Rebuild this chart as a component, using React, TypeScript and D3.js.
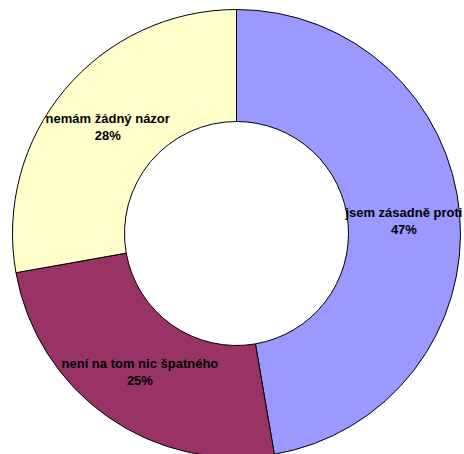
import React, { useEffect, useRef } from 'react';
import * as d3 from 'd3';

const labels = ['jsem zásadně proti', 'není na tom nic špatného', 'nemám žádný názor'];
const values = [47.3, 24.9, 27.8];
const shown = ['47%', '25%', '28%'];
const colors = ['#9999FF', '#993366', '#FFFFCC'];

const App = () => {
  const ref = useRef<SVGSVGElement>(null);

  useEffect(() => {
    const width = 464;
    const height = 454;
    const cx = 236.5;
    const cy = 233.5;
    const outer = 224;
    const inner = 112;

    const svg = d3.select(ref.current);
    svg.selectAll('*').remove();
    svg.attr('width', width).attr('height', height);

    const g = svg.append('g').attr('transform', `translate(${cx},${cy})`);

    const pie = d3.pie<number>().sort(null).value(d => d);
    const arcs = pie(values);
    const arc = d3.arc<d3.PieArcDatum<number>>().innerRadius(inner).outerRadius(outer);

    g.selectAll('path.slice')
      .data(arcs)
      .enter().append('path')
      .attr('class', 'slice')
      .attr('d', arc)
      .attr('fill', (d, i) => colors[i])
      .attr('stroke', '#000')
      .attr('stroke-width', 1);

    // labels sit at the arc centroid, two lines
    const txt = g.selectAll('text.lbl')
      .data(arcs)
      .enter().append('text')
      .attr('class', 'lbl')
      .attr('transform', d => {
        const [x, y] = arc.centroid(d);
        return `translate(${x},${y})`;
      })
      .style('text-anchor', 'middle')
      .style('font-family', 'Arial, "Liberation Sans", sans-serif')
      .style('font-weight', 'bold')
      .style('font-size', '13px')
      .style('fill', '#000');

    txt.append('tspan').attr('x', 0).attr('dy', '-0.2em').text((d, i) => labels[i]);
    txt.append('tspan').attr('x', 0).attr('dy', '1.3em').text((d, i) => shown[i]);
  }, []);

  return (
    <svg ref={ref} style={{ position: 'absolute', left: 0, top: 0, background: '#fff' }}></svg>
  );
};

export default App;
